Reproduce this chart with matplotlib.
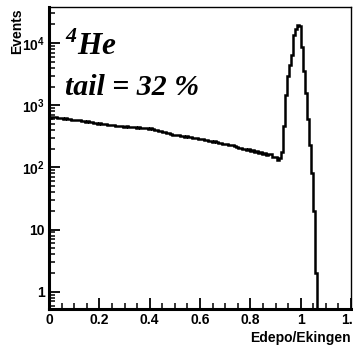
"""Energy deposition fraction for 4He, log-scale histogram."""
import matplotlib
matplotlib.use("Agg")
import matplotlib.pyplot as plt
import numpy as np
from matplotlib.ticker import MultipleLocator, LogLocator, NullFormatter

# histogram: bin width 0.008 starting at 0
bin_width = 0.008
counts = [
    630, 645, 640, 650, 632, 628, 630, 612, 615, 600,
    605, 588, 590, 578, 582, 570, 560, 556, 548, 550,
    532, 530, 520, 522, 508, 512, 500, 496, 498, 484,
    486, 474, 478, 466, 470, 460, 464, 455, 458, 450,
    452, 444, 447, 436, 442, 430, 434, 428, 430, 422,
    426, 412, 405, 398, 392, 382, 378, 366, 360, 352,
    348, 338, 334, 330, 336, 322, 318, 314, 318, 306,
    308, 300, 296, 300, 290, 284, 286, 276, 272, 268,
    270, 258, 262, 252, 246, 250, 240, 236, 240, 228,
    226, 232, 218, 214, 206, 208, 200, 196, 192, 198,
    186, 190, 178, 182, 172, 176, 165, 170, 160, 162,
    165, 145, 150, 130, 140, 175, 470, 1450, 3000, 4500,
    6400, 13500, 17000, 19500, 18500, 8700, 3500, 1600, 600, 230,
    80, 20, 2,
]
edges = np.arange(len(counts) + 1) * bin_width

title_iso = r"$^{\mathbfit{4}}\mathbfit{He}$"
title_tail = "tail = 32 %"
y_ticks = [1, 10, 100, 1000, 10000]
y_labels = ["1", "10", r"$\mathbf{10^{2}}$", r"$\mathbf{10^{3}}$", r"$\mathbf{10^{4}}$"]

plt.rcParams["mathtext.fontset"] = "custom"
plt.rcParams["mathtext.bf"] = "Liberation Sans:bold"
plt.rcParams["mathtext.rm"] = "Liberation Sans:bold"
plt.rcParams["mathtext.bfit"] = "Liberation Serif:bold:italic"

fig = plt.figure(figsize=(3.53, 3.47), dpi=100)
ax = fig.add_axes([49 / 353, 1 - 309 / 347, 302 / 353, 302 / 347])

ax.stairs(counts, edges, baseline=0.1, color="black", lw=1.8)

ax.set_yscale("log")
ax.set_xlim(0, 1.2)
ax.set_ylim(0.53, 3.8e4)

ax.xaxis.set_minor_locator(MultipleLocator(0.05))
ax.set_xticks([0, 0.2, 0.4, 0.6, 0.8, 1.0, 1.2])
ax.set_xticklabels(["0", "0.2", "0.4", "0.6", "0.8", "1", "1.2"],
                   fontsize=10, fontweight="bold", family="Liberation Sans")
ax.set_yticks(y_ticks)
ax.set_yticklabels(y_labels, fontsize=10, fontweight="bold", family="Liberation Sans")
ax.yaxis.set_minor_locator(LogLocator(base=10, subs=np.arange(2, 10)))
ax.yaxis.set_minor_formatter(NullFormatter())

ax.tick_params(which="major", direction="in", length=8, width=1.3, pad=3)
ax.tick_params(which="minor", direction="in", length=4, width=1.1)
ax.tick_params(top=False, right=False)

for side in ("left", "bottom"):
    ax.spines[side].set_linewidth(2.2)
for side in ("top", "right"):
    ax.spines[side].set_linewidth(1.0)

ax.text(0.052, 0.841, title_iso, transform=ax.transAxes, fontsize=22.5)
ax.text(0.052, 0.709, title_tail, transform=ax.transAxes, fontsize=21.5,
        family="Liberation Serif", fontweight="bold", style="italic")

fig.text(351 / 353, 1 - 342 / 347, "Edepo/Ekingen", ha="right", va="baseline",
         fontsize=10, fontweight="bold", family="Liberation Sans")
fig.text(24 / 353, 1 - 8 / 347, "Events", rotation=90, ha="right", va="top",
         fontsize=10, fontweight="bold", family="Liberation Sans")

fig.savefig("out.png", dpi=100)
plt.close(fig)
